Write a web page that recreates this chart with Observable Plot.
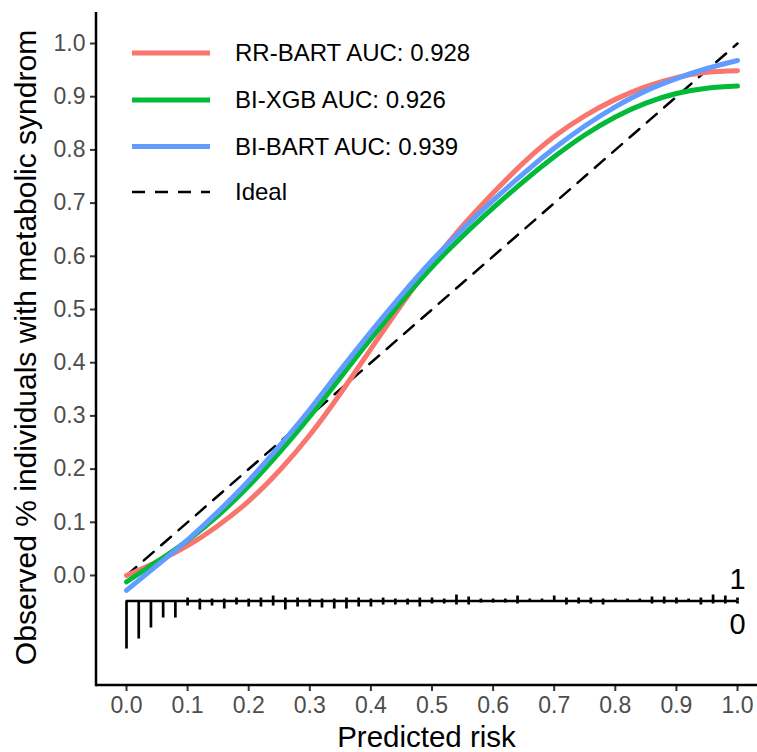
<!DOCTYPE html>
<html><head><meta charset="utf-8">
<script src="https://cdn.jsdelivr.net/npm/d3@7"></script>
<script src="https://cdn.jsdelivr.net/npm/@observablehq/plot@0.6"></script>
<style>
html,body{margin:0;padding:0;background:#fff;}
#chart svg{display:block;}
</style></head><body><div id="chart"></div>
<script>
// ---- data ----
const riskGrid = [0.00,0.05,0.10,0.15,0.20,0.25,0.30,0.35,0.40,0.45,0.50,0.55,0.60,0.65,0.70,0.75,0.80,0.85,0.90,0.95,1.00];
const rrBart = [0.000,0.026,0.056,0.094,0.140,0.197,0.264,0.342,0.426,0.509,0.587,0.657,0.719,0.776,0.825,0.864,0.895,0.919,0.936,0.946,0.949];
const biXgb  = [-0.012,0.026,0.066,0.113,0.168,0.231,0.299,0.372,0.445,0.515,0.580,0.638,0.691,0.741,0.787,0.828,0.862,0.888,0.906,0.916,0.920];
const biBart = [-0.028,0.019,0.067,0.120,0.178,0.243,0.312,0.386,0.458,0.527,0.592,0.651,0.705,0.756,0.803,0.845,0.881,0.911,0.934,0.953,0.968];
const modelNames = ["RR-BART AUC: 0.928","BI-XGB AUC: 0.926","BI-BART AUC: 0.939"];
const modelColors = ["#F8766D","#00BA38","#619CFF"];
const idealLabel = "Ideal";
const idealPts = [0,1];
const xTicks = [0.0,0.1,0.2,0.3,0.4,0.5,0.6,0.7,0.8,0.9,1.0];
const yTicks = [0.0,0.1,0.2,0.3,0.4,0.5,0.6,0.7,0.8,0.9,1.0];
const xTitle = "Predicted risk";
const yTitle = "Observed % individuals with metabolic syndrom";
const spikeBins = [0.00,0.02,0.04,0.06,0.08,0.10,0.12,0.14,0.16,0.18,0.20,0.22,0.24,0.26,0.28,0.30,0.32,0.34,0.36,0.38,0.40,0.42,0.44,0.46,0.48,0.50,0.52,0.54,0.56,0.58,0.60,0.62,0.64,0.66,0.68,0.70,0.72,0.74,0.76,0.78,0.80,0.82,0.84,0.86,0.88,0.90,0.92,0.94,0.96,0.98,1.00];
const nonEventFreq = [48,38,27,17,17,5,9,5,8,4,6,6,5,9,6,6,7,8,8,6,6,4,4,4,6,3,3,4,4,2,2,2,3,1,1,1,4,3,3,4,1,1,1,3,3,3,1,4,3,3,3];
const eventFreq    = [0,0,0,0,0,3,2,2,2,3,2,3,5,3,3,2,2,2,3,3,2,3,2,2,3,3,2,6,4,2,2,2,5,2,2,5,3,3,3,2,2,2,2,4,4,3,2,3,6,5,3];
const eventLabel = "1";
const nonEventLabel = "0";

// ---- derived tables ----
const spikeBase = -0.048;
const spikeUnit = 1/532;
const curves = [rrBart, biXgb, biBart].flatMap((s,k)=>riskGrid.map((x,i)=>({model:modelNames[k], x, y:s[i]})));
const spikes = spikeBins.flatMap((b,i)=>[
  {x:b, y1:spikeBase, y2:spikeBase - nonEventFreq[i]*spikeUnit},
  {x:b, y1:spikeBase, y2:spikeBase + eventFreq[i]*spikeUnit}
]);
const font = "'Liberation Sans', Arial, Helvetica, sans-serif";
const xEnd = d3.max(spikeBins);

const chart = Plot.plot({
  width: 757, height: 752,
  marginLeft: 96, marginRight: 0, marginTop: 12, marginBottom: 67,
  style: {fontFamily: font, background: "white"},
  x: {domain: [-0.0491, 1.0327], label: null},
  y: {domain: [-0.2068, 1.0583], label: null},
  color: {domain: modelNames, range: modelColors},
  marks: [
    Plot.axisX({ticks: xTicks, tickFormat: d3.format(".1f"), tickSize: 6, tickPadding: 5, fontSize: 23, fill: "#4d4d4d", stroke: "#333", strokeWidth: 2, label: null}),
    Plot.axisY({ticks: yTicks, tickFormat: d3.format(".1f"), tickSize: 6, tickPadding: 5, fontSize: 23, fill: "#4d4d4d", stroke: "#333", strokeWidth: 2, label: null}),
    Plot.line(idealPts, {x: d=>d, y: d=>d, stroke: "black", strokeWidth: 2.5, strokeDasharray: "13,10"}),
    Plot.line(curves, {x:"x", y:"y", z:"model", stroke:"model", strokeWidth:5, curve:"natural"}),
    Plot.ruleY([spikeBase], {x1: d3.min(spikeBins), x2: xEnd, stroke:"black", strokeWidth: 2.7}),
    Plot.ruleX(spikes, {x:"x", y1:"y1", y2:"y2", stroke:"black", strokeWidth: 2.7, strokeLinecap:"butt"}),
    Plot.text([eventLabel], {x: xEnd, y: spikeBase, text: d=>d, dy: -21, fontSize: 29, fill:"black"}),
    Plot.text([nonEventLabel], {x: xEnd, y: spikeBase, text: d=>d, dy: 24, fontSize: 29, fill:"black"})
  ]
});
document.getElementById("chart").appendChild(chart);
const svg = d3.select(chart);

// axis lines
const sx = chart.scale("x"), sy = chart.scale("y");
const [x0, x1] = sx.range, [yb, yt] = sy.range;
svg.append("line").attr("x1", x0).attr("x2", x1).attr("y1", yb).attr("y2", yb).attr("stroke","black").attr("stroke-width",2.5);
svg.append("line").attr("x1", x0).attr("x2", x0).attr("y1", yb+1.25).attr("y2", yt).attr("stroke","black").attr("stroke-width",2.5);

// axis titles
svg.append("text").attr("x", (x0+x1)/2).attr("y", 747).attr("text-anchor","middle")
  .attr("font-size", 29.5).attr("font-family", font).attr("fill","black").text(xTitle);
svg.append("text").attr("transform", `translate(36,${(yb+yt)/2 - 1}) rotate(-90)`).attr("text-anchor","middle")
  .attr("font-size", 30).attr("font-family", font).attr("fill","black").text(yTitle);

// legend
const lg = svg.append("g").attr("font-family", font).attr("font-size", 24).attr("text-anchor","start");
const rows = modelNames.map((n,i)=>({label:n, color:modelColors[i], dash:null, w:5}))
  .concat([{label: idealLabel, color:"black", dash:"13,10", w:2.5}]);
const rowY = [53, 100, 146.5, 192];
rows.forEach((r,i)=>{
  lg.append("line").attr("x1",132).attr("x2",210).attr("y1",rowY[i]).attr("y2",rowY[i])
    .attr("stroke", r.color).attr("stroke-width", r.w).attr("stroke-dasharray", r.dash);
  lg.append("text").attr("x",235).attr("y",rowY[i]).attr("dy","0.35em").attr("fill","black").text(r.label);
});
</script></body></html>
